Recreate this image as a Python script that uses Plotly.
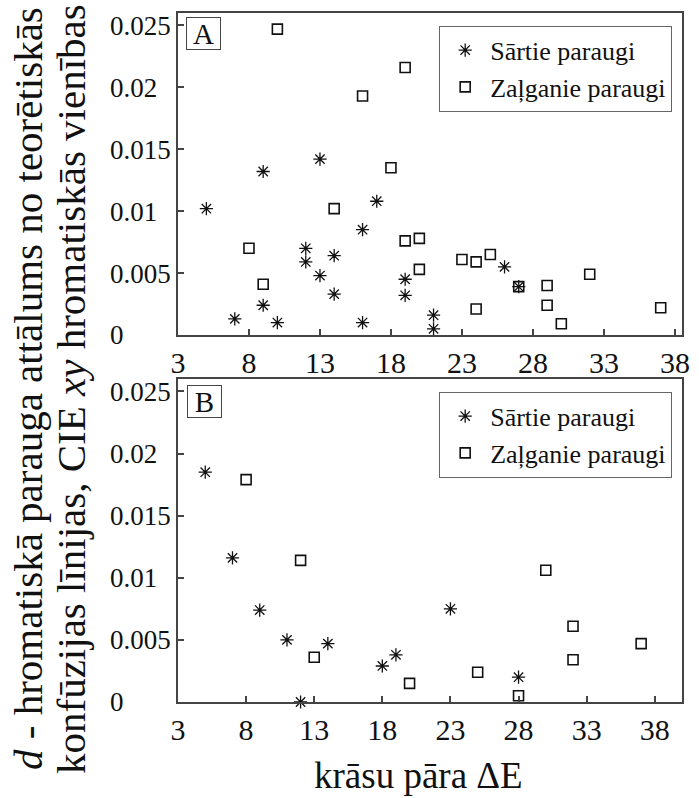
import plotly.graph_objects as go

# Panel A: samples vs colour-pair difference
a_sartie_x = [5, 7, 9, 9, 10, 12, 12, 13, 13, 14, 14, 16, 16, 17, 19, 19, 21, 21, 26, 27]
a_sartie_y = [0.0102, 0.0013, 0.0132, 0.0024, 0.0010, 0.0070, 0.0059, 0.0142, 0.0048, 0.0064,
              0.0033, 0.0085, 0.0010, 0.0108, 0.0045, 0.0032, 0.0016, 0.0005, 0.0055, 0.0039]
a_zalg_x = [8, 9, 10, 14, 16, 18, 19, 19, 20, 20, 23, 24, 24, 25, 27, 29, 29, 30, 32, 37]
a_zalg_y = [0.0070, 0.0041, 0.0247, 0.0102, 0.0193, 0.0135, 0.0216, 0.0076, 0.0078, 0.0053,
            0.0061, 0.0059, 0.0021, 0.0065, 0.0039, 0.0040, 0.0024, 0.0009, 0.0049, 0.0022]

# Panel B
b_sartie_x = [5, 7, 9, 11, 12, 14, 18, 19, 23, 28]
b_sartie_y = [0.0185, 0.0116, 0.0074, 0.0050, 0.0000, 0.0047, 0.0029, 0.0038, 0.0075, 0.0020]
b_zalg_x = [8, 12, 13, 20, 25, 28, 30, 32, 32, 37]
b_zalg_y = [0.0179, 0.0114, 0.0036, 0.0015, 0.0024, 0.0005, 0.0106, 0.0061, 0.0034, 0.0047]

x_ticks = [3, 8, 13, 18, 23, 28, 33, 38]
y_ticks = [0, 0.005, 0.01, 0.015, 0.02, 0.025]
# figure/punctuation spaces keep the labels left-aligned
y_ticktext = ["0\u2008\u2007\u2007\u2007", "0.005", "0.01\u2007", "0.015", "0.02\u2007", "0.025"]

FONT = "Liberation Serif"
INK = "#111111"
FRAME = "#444444"

fig = go.Figure()

def add_pair(xs, ys, xz, yz, xa, ya, leg):
    fig.add_trace(go.Scatter(
        x=xs, y=ys, mode="markers", name="Sārtie paraugi", xaxis=xa, yaxis=ya,
        legend=leg, cliponaxis=False,
        marker=dict(symbol="asterisk-open", size=11, color=INK, line=dict(color=INK, width=1.3))))
    fig.add_trace(go.Scatter(
        x=xz, y=yz, mode="markers", name="Zaļganie paraugi", xaxis=xa, yaxis=ya,
        legend=leg, cliponaxis=False,
        marker=dict(symbol="square-open", size=10, color=INK, line=dict(color=INK, width=1.6))))

add_pair(a_sartie_x, a_sartie_y, a_zalg_x, a_zalg_y, "x", "y", "legend")
add_pair(b_sartie_x, b_sartie_y, b_zalg_x, b_zalg_y, "x2", "y2", "legend2")

axis_common = dict(
    showline=True, linecolor=FRAME, linewidth=1.5, mirror=True,
    ticks="inside", ticklen=6, tickwidth=1.5, tickcolor=FRAME,
    showgrid=False, zeroline=False,
)
xfont = dict(family=FONT, size=30, color=INK)
yfont = dict(family=FONT, size=27, color=INK)

legend_common = dict(
    bordercolor="#666666", borderwidth=1, bgcolor="white",
    font=dict(family=FONT, size=26, color=INK),
    xanchor="right", yanchor="top", itemwidth=40,
)

fig.update_layout(
    width=699, height=798,
    margin=dict(l=178, r=9, t=13, b=96),
    plot_bgcolor="white", paper_bgcolor="white",
    font=dict(family=FONT, color=INK),
    xaxis=dict(domain=[0, 1], anchor="y", range=[3, 38.5], tickvals=x_ticks,
               tickfont=xfont, **axis_common),
    yaxis=dict(domain=[0.5327, 1], anchor="x", range=[0, 0.026], tickvals=y_ticks,
               ticktext=y_ticktext, tickfont=yfont, **axis_common),
    xaxis2=dict(domain=[0, 1], anchor="y2", range=[3, 40], tickvals=x_ticks,
                tickfont=xfont, **axis_common),
    yaxis2=dict(domain=[0, 0.4688], anchor="x2", range=[0, 0.026], tickvals=y_ticks,
                ticktext=y_ticktext, tickfont=yfont, **axis_common),
    legend=dict(x=0.9805, y=0.9816, **legend_common),
    legend2=dict(x=0.9805, y=0.4504, **legend_common),
    showlegend=True,
)

panel_box = dict(xref="paper", yref="paper", showarrow=False, xanchor="left", yanchor="top",
                 font=dict(family=FONT, size=29, color=INK), bordercolor=FRAME,
                 borderwidth=1, borderpad=0, width=33, height=31, bgcolor="white")
fig.add_annotation(text="A", x=(186 - 178) / 512, y=(702 - 17) / 689, **panel_box)
fig.add_annotation(text="B", x=(187 - 178) / 512, y=(702 - 385) / 689, **panel_box)

# axis titles
fig.add_annotation(text="krāsu pāra ΔE", xref="paper", yref="paper",
                   x=(422 - 178) / 512, y=(702 - 775) / 689, showarrow=False,
                   xanchor="center", yanchor="middle",
                   font=dict(family=FONT, size=37, color=INK))
ytitle = dict(xref="paper", yref="paper", x=0, y=(702 - 389) / 689, showarrow=False,
              textangle=-90, xanchor="center", yanchor="middle",
              font=dict(family=FONT, size=41, color=INK))
fig.add_annotation(text="<i>d</i> - hromatiskā parauga attālums no teorētiskās",
                   xshift=28 - 178, **ytitle)
fig.add_annotation(text="konfūzijas līnijas, CIE <i>xy</i> hromatiskās vienības",
                   xshift=71 - 178, **ytitle)

fig.write_html("out.html")
